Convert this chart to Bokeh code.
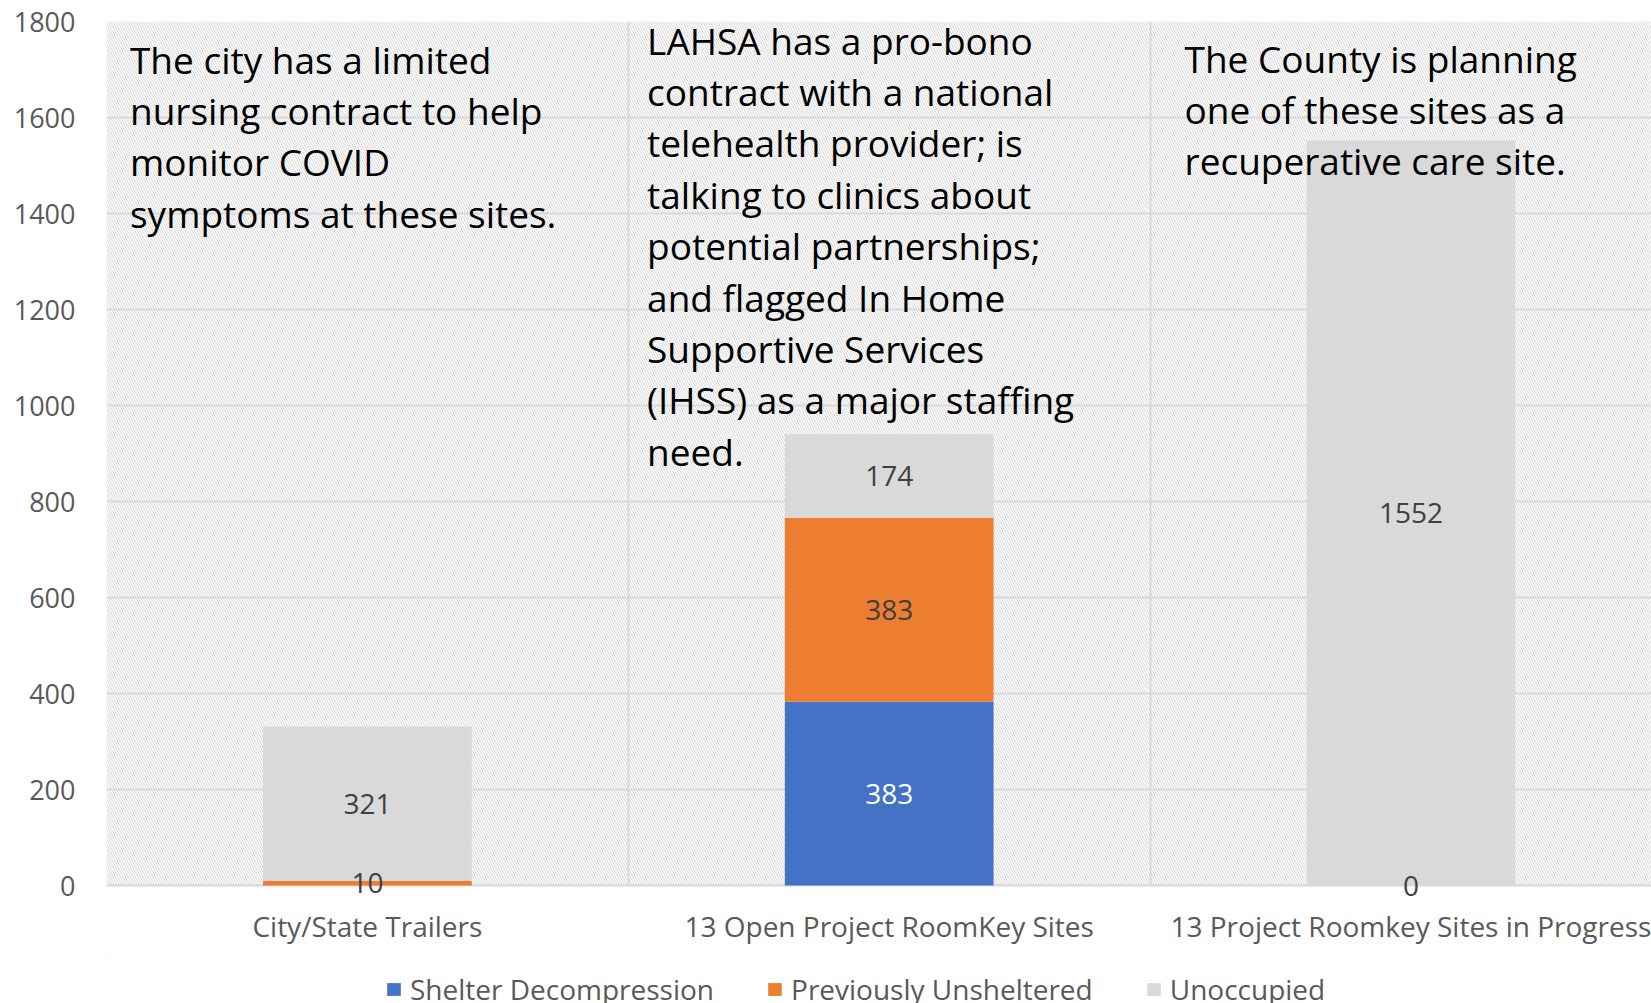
from bokeh.plotting import figure
from bokeh.layouts import column
from bokeh.models import (ColumnDataSource, Range1d, FixedTicker, BoxAnnotation,
                          Legend, LegendItem, LabelSet, Span)
from bokeh.core.properties import value
from bokeh.embed import file_html
from bokeh.resources import INLINE

# ---- data ----
categories = ["City/State Trailers", "13 Open Project RoomKey Sites",
              "13 Project Roomkey Sites in Progress"]
series = ["Shelter Decompression", "Previously Unsheltered", "Unoccupied"]
shelter_decompression = [0, 383, 0]
previously_unsheltered = [10, 383, 0]
unoccupied = [321, 174, 1552]
y_ticks = [0, 200, 400, 600, 800, 1000, 1200, 1400, 1600, 1800]

notes = [
    "The city has a limited\nnursing contract to help\nmonitor COVID\nsymptoms at these sites.",
    "LAHSA has a pro-bono\ncontract with a national\ntelehealth provider; is\ntalking to clinics about\npotential  partnerships;\nand flagged In Home\nSupportive Services\n(IHSS) as a major staffing\nneed.",
    "The County is planning\none of these sites as a\nrecuperative care site.",
]

colors = ["#4472C4", "#ED7D31", "#D9D9D9"]
label_colors = ["#FFFFFF", "#404040", "#404040"]
FONT = "Open Sans"
GRID = "#d9d9d9"
X_END = 2.961

xs = [i + 0.5 for i in range(len(categories))]
src = ColumnDataSource(dict(x=xs, s0=shelter_decompression,
                            s1=previously_unsheltered, s2=unoccupied))

p = figure(width=1651, height=955, output_backend="svg", toolbar_location=None,
           x_range=Range1d(0, X_END), y_range=Range1d(-31.25, 1800),
           min_border_left=106, min_border_top=21, min_border_right=0,
           min_border_bottom=55)
p.outline_line_color = None
p.background_fill_color = "white"

# hatched plot-area background (above the zero line only)
bg = BoxAnnotation(bottom=0, fill_alpha=0, line_color=None, hatch_pattern="\\",
                   hatch_color="#d6d6d6", hatch_scale=5, hatch_weight=1,
                   level="image")
p.add_layout(bg)

# grids
p.ygrid.ticker = FixedTicker(ticks=y_ticks)
p.ygrid.grid_line_color = GRID
p.ygrid.grid_line_width = 2
p.xgrid.ticker = FixedTicker(ticks=[0, 1, 2, 3])
p.xgrid.grid_line_color = GRID
p.xgrid.grid_line_width = 2

# white strip below zero hides grid lines there; then the category axis line
mask = BoxAnnotation(top=0, fill_color="white", fill_alpha=1, line_color=None,
                     level="underlay")
p.add_layout(mask)
p.add_layout(Span(location=0, dimension="width", line_color=GRID, line_width=2,
                  level="underlay"))

# bars
renderers = p.vbar_stack(["s0", "s1", "s2"], x="x", width=0.4, color=colors,
                         line_color=None, source=src)

# data labels
lx, ly, lt, lc = [], [], [], []
stack = [shelter_decompression, previously_unsheltered, unoccupied]
for i, xc in enumerate(xs):
    base = 0
    for j, vals in enumerate(stack):
        v = vals[i]
        if v > 0 or j == 1:
            lx.append(xc)
            ly.append(base + v / 2)
            lt.append(str(v))
            lc.append(label_colors[j])
        base += v
lsrc = ColumnDataSource(dict(x=lx, y=ly, t=lt, c=lc))
p.add_layout(LabelSet(x="x", y="y", text="t", source=lsrc, text_color="c",
                      text_align="center", text_baseline="middle",
                      text_font=value(FONT), text_font_size="28px"))

# annotation text boxes
note_x = [0.045, 1.036, 2.066]
note_y = [1775, 1814, 1777]
p.text(x=note_x, y=note_y, text=notes, text_color="black", text_align="left",
       text_baseline="top", text_font=value(FONT), text_font_size="37px",
       text_line_height=1.007)

# axes
p.yaxis.ticker = FixedTicker(ticks=y_ticks)
p.yaxis.axis_line_color = None
p.yaxis.major_tick_line_color = None
p.yaxis.minor_tick_line_color = None
p.yaxis.major_tick_out = 0
p.yaxis.major_tick_in = 0
p.yaxis.major_label_standoff = 31
p.yaxis.major_label_text_font = FONT
p.yaxis.major_label_text_font_size = "27px"
p.yaxis.major_label_text_color = "#595959"

p.xaxis.ticker = FixedTicker(ticks=xs)
p.xaxis.major_label_overrides = {x: c for x, c in zip(xs, categories)}
p.xaxis.axis_line_color = None
p.xaxis.major_tick_line_color = None
p.xaxis.minor_tick_line_color = None
p.xaxis.major_tick_out = 0
p.xaxis.major_tick_in = 0
p.xaxis.major_label_standoff = 6
p.xaxis.major_label_text_font = FONT
p.xaxis.major_label_text_font_size = "28px"
p.xaxis.major_label_text_color = "#595959"

# legend strip below the chart (same stacked series, kept outside its view)
lf = figure(width=1651, height=48, output_backend="svg", toolbar_location=None,
            x_axis_type=None, y_axis_type=None, x_range=Range1d(100, 101),
            y_range=Range1d(-2000, -1000), min_border=0)
lf.outline_line_color = None
lf.grid.visible = False
lrs = lf.vbar_stack(["s0", "s1", "s2"], x="x", width=0.4, color=colors,
                    line_color=None, source=src)
legend = Legend(items=[LegendItem(label=s, renderers=[r]) for s, r in zip(series, lrs)],
                orientation="horizontal", location=(279, -5), padding=0,
                margin=0, spacing=52, label_standoff=8, glyph_width=17,
                glyph_height=16, border_line_color=None, background_fill_alpha=0,
                label_text_font=FONT, label_text_font_size="28px",
                label_text_color="#595959")
lf.add_layout(legend, "center")

open("out.html", "w").write(file_html(column(p, lf), INLINE))
